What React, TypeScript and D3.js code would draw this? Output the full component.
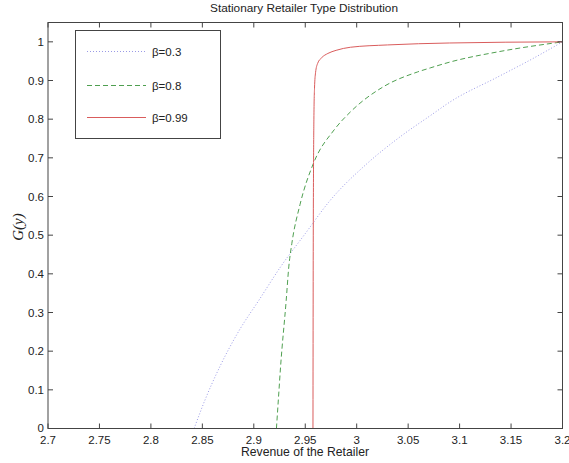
import React from "react";
import * as d3 from "d3";

const xTicks = [2.7, 2.75, 2.8, 2.85, 2.9, 2.95, 3, 3.05, 3.1, 3.15, 3.2];
const yTicks = [0, 0.1, 0.2, 0.3, 0.4, 0.5, 0.6, 0.7, 0.8, 0.9, 1];

const seriesNames = ["β=0.3", "β=0.8", "β=0.99"];

const beta03: [number, number][] = [
  [2.842, 0], [2.852, 0.07], [2.867, 0.16], [2.885, 0.25], [2.906, 0.336],
  [2.926, 0.418], [2.95, 0.504], [2.973, 0.586], [3.01, 0.685], [3.042, 0.754],
  [3.072, 0.81], [3.091, 0.845], [3.137, 0.909], [3.17, 0.955], [3.2, 1],
];
const beta08: [number, number][] = [
  [2.922, 0], [2.924, 0.08], [2.926, 0.159], [2.9315, 0.332], [2.934, 0.418],
  [2.937, 0.479], [2.945, 0.58], [2.958, 0.686], [2.978, 0.772], [2.994, 0.819],
  [3.026, 0.884], [3.059, 0.922], [3.072, 0.933], [3.091, 0.948], [3.137, 0.974],
  [3.2, 1],
];
const beta099: [number, number][] = [
  [2.9575, 0], [2.9578, 0.5], [2.9584, 0.8], [2.959, 0.88], [2.96, 0.92],
  [2.962, 0.944], [2.966, 0.959], [2.972, 0.97], [2.98, 0.978], [2.994, 0.986],
  [3.03, 0.992], [3.09, 0.997], [3.2, 1],
];

const seriesData = [beta03, beta08, beta099];
const colors = ["#9a9ae6", "#4f9f50", "#d95c5c"];
const dashes = ["1,2", "5,3", "none"];

export default function App() {
  const W = 569, H = 463;
  const left = 48, right = 562.5, top = 22.5, bottom = 428.5;
  const x = d3.scaleLinear().domain([2.7, 3.2]).range([left, right]);
  const y = d3.scaleLinear().domain([0, 1.05]).range([bottom, top]);
  const line = d3.line<[number, number]>().x(d => x(d[0])).y(d => y(d[1])).curve(d3.curveMonotoneX);
  const font = "'Liberation Sans', Arial, Helvetica, sans-serif";
  const axisColor = "#444";
  return (
    <svg width={W} height={H} style={{ position: "absolute", left: 0, top: 0, background: "#fff" }}>
      <rect x={0} y={0} width={W} height={H} fill="#fff" />
      <text x={304} y={12} textAnchor="middle" fontFamily={font} fontSize={11.8} fill="#222">
        Stationary Retailer Type Distribution
      </text>
      <clipPath id="clip">
        <rect x={left} y={top} width={right - left} height={bottom - top} />
      </clipPath>
      <g clipPath="url(#clip)">
        {seriesData.map((s, i) => (
          <path key={i} d={line(s) || ""} fill="none" stroke={colors[i]} strokeWidth={1}
            strokeDasharray={dashes[i]} />
        ))}
      </g>
      <rect x={left} y={top} width={right - left} height={bottom - top} fill="none" stroke={axisColor} strokeWidth={1} />
      {xTicks.map((t, i) => (
        <g key={"x" + i}>
          <line x1={x(t)} x2={x(t)} y1={bottom} y2={bottom - 5} stroke={axisColor} />
          <line x1={x(t)} x2={x(t)} y1={top} y2={top + 5} stroke={axisColor} />
          <text x={x(t)} y={bottom + 15} textAnchor="middle" fontFamily={font} fontSize={11.5} fill="#222">
            {String(t)}
          </text>
        </g>
      ))}
      {yTicks.map((t, i) => (
        <g key={"y" + i}>
          <line x1={left} x2={left + 5} y1={y(t)} y2={y(t)} stroke={axisColor} />
          <line x1={right} x2={right - 5} y1={y(t)} y2={y(t)} stroke={axisColor} />
          <text x={left - 4} y={y(t) + (t === 0 ? 3 : 4)} textAnchor="end" fontFamily={font} fontSize={11.5} fill="#222">
            {String(t)}
          </text>
        </g>
      ))}
      <text x={305} y={456} textAnchor="middle" fontFamily={font} fontSize={12.2} fill="#222">
        Revenue of the Retailer
      </text>
      <text transform="translate(23,227) rotate(-90)" textAnchor="middle"
        fontFamily="'Liberation Serif', 'Times New Roman', serif" fontStyle="italic" fontSize={15} fill="#222">
        G(y)
      </text>
      <rect x={75.5} y={30.5} width={145} height={108} fill="#fff" stroke={axisColor} strokeWidth={1} />
      {seriesNames.map((n, i) => {
        const ly = [51.5, 85.5, 117.5][i];
        return (
          <g key={"l" + i}>
            <line x1={87} x2={146} y1={ly} y2={ly} stroke={colors[i]} strokeWidth={1} strokeDasharray={dashes[i]} />
            <text x={152} y={ly + 4} fontFamily={font} fontSize={11.5} fill="#222">{n}</text>
          </g>
        );
      })}
    </svg>
  );
}
